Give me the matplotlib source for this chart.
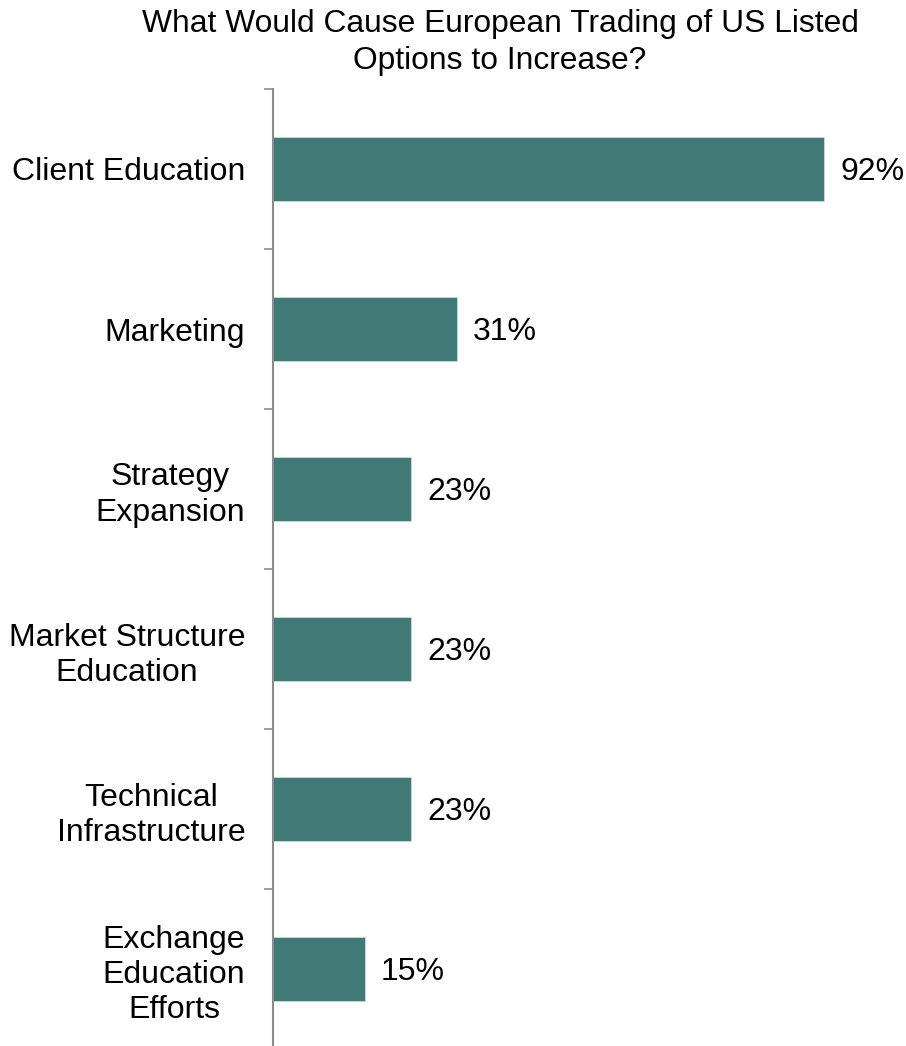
import numpy as np
import matplotlib
matplotlib.use("Agg")
import matplotlib.pyplot as plt

plt.rcParams['font.family'] = ['Liberation Sans', 'DejaVu Sans']

# survey responses, top to bottom
categories = ["Client Education", "Marketing", "Strategy\nExpansion",
              "Market Structure\nEducation", "Technical\nInfrastructure",
              "Exchange\nEducation\nEfforts"]
shares = [92.3, 30.8, 23.1, 23.1, 23.1, 15.4]
share_labels = ["92%", "31%", "23%", "23%", "23%", "15%"]

bar_color = '#427a78'
axis_color = '#8c8c8c'

W, H = 906, 1046
fig = plt.figure(figsize=(W / 100, H / 100), dpi=100)

# axis line sits at x=273, top at y=89, each category band is 160px
ax = fig.add_axes([273 / W, (H - 89 - 960) / H, (W - 273) / W, 960 / H])

y = np.arange(len(categories))
ax.barh(y, shares, height=0.4, color=bar_color, edgecolor='#c9dad9', linewidth=0.6)
ax.set_ylim(len(categories) - 0.5, -0.5)
ax.set_xlim(0, 106)

for yi, v, lab in zip(y, shares, share_labels):
    ax.text(v + 2.7, yi, lab, va='center_baseline', ha='left', fontsize=23, color='black')

ax.set_yticks(y)
ax.set_yticklabels(categories, fontsize=23, linespacing=1.22, ha='right',
                   multialignment='center')
ax.tick_params(axis='y', length=0, pad=20)

# minor ticks on the band boundaries
ax.set_yticks(np.arange(-0.5, len(categories), 1.0), minor=True)
ax.tick_params(axis='y', which='minor', length=6.5, width=1.2, color=axis_color)
ax.set_xticks([])

for side in ['top', 'right', 'bottom']:
    ax.spines[side].set_visible(False)
ax.spines['left'].set_color(axis_color)
ax.spines['left'].set_linewidth(1.5)

fig.text(500 / W, 1 - 9 / H,
         "What Would Cause European Trading of US Listed\nOptions to Increase?",
         ha='center', va='top', fontsize=22.9, linespacing=1.32)

fig.savefig("out.png", dpi=100)
